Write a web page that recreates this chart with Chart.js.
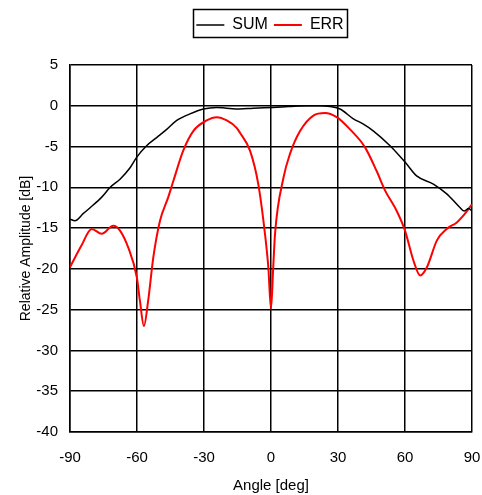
<!DOCTYPE html>
<html>
<head>
<meta charset="utf-8">
<script src="https://cdn.jsdelivr.net/npm/chart.js@4"></script>
<style>
  html, body { margin: 0; padding: 0; background: #fff; }
  #wrap { width: 482px; height: 495px; }
</style>
</head>
<body>
<div id="wrap"><canvas id="pattern-chart" width="482" height="495"></canvas></div>
<script>
// angle cuts
const sumAngle = [-90, -87.8, -84, -81, -75.8, -72, -67.6, -63.1, -60.1, -55.7, -51.2, -46.7, -42.2, -36.3, -30.3, -24.3, -20, -14, -8, 0.7, 8, 16, 22, 26.4, 30.9, 36.9, 41, 45.9, 53.3, 60, 65.2, 72.7, 78.7, 84.7, 86.5, 88.5, 90];
const sumDb    = [-13.9, -14.1, -13.2, -12.5, -11.2, -10, -9.0, -7.6, -6.3, -4.9, -3.9, -2.9, -1.8, -1.0, -0.4, -0.2, -0.3, -0.4, -0.3, -0.2, -0.1, 0, 0, -0.1, -0.4, -1.6, -2.2, -3.1, -4.9, -6.9, -8.6, -9.6, -10.8, -12.5, -12.9, -12.6, -12.9];

const errAngle = [-90, -85, -80.3, -75.8, -70.6, -67.6, -63.9, -60.1, -58.7, -56.9, -55, -52.7, -49.7, -46, -43.7, -39.3, -34.8, -28.8, -24.3, -19.8, -15.4, -13.9, -9.4, -5.7, -2.7, -1.2, 0, 1, 1.8, 5.6, 8.5, 13, 19, 24.2, 29.4, 35.4, 42.1, 47.3, 51.1, 56.3, 60, 63.8, 66.8, 69.8, 74.3, 78.7, 83.2, 86, 90];
const errDb    = [-19.8, -17.2, -15.1, -15.7, -14.7, -15.3, -17.4, -21.0, -23.9, -27.0, -23.9, -18.6, -14.1, -11.2, -9.2, -5.5, -3.1, -1.8, -1.4, -1.8, -2.7, -3.3, -5.5, -9.6, -15.7, -19.8, -24.9, -19.8, -15.7, -8.8, -5.9, -3.1, -1.2, -0.9, -1.4, -2.9, -5.1, -8.0, -10.4, -12.9, -15.3, -19.0, -20.8, -19.8, -16.5, -15.1, -14.3, -13.5, -12.1];

const xTicks = [-90, -60, -30, 0, 30, 60, 90];

function toPoints(xs, ys) {
    const pts = [];
    for (var i in xs) {
        pts.push({ x: xs[i], y: ys[i] });
    }
    return pts;
}

// legend: extra room below it, nudged right, framed like the original
const LEGEND_EXTRA = 22;
const LEGEND_SHIFT = 34;
const legendBox = {
    id: 'legendBox',
    beforeLayout(chart) {
        const lg = chart.legend;
        if (!lg || lg._patched) return;
        const fit = lg.fit;
        lg.fit = function() {
            fit.call(this);
            this.height += LEGEND_EXTRA;
        };
        lg._patched = true;
    },
    afterLayout(chart) {
        chart.legend.left += LEGEND_SHIFT;
        chart.legend.right += LEGEND_SHIFT;
    },
    afterDraw(chart) {
        const ctx = chart.ctx;
        ctx.save();
        ctx.strokeStyle = '#000';
        ctx.lineWidth = 1.5;
        ctx.strokeRect(193.5, 9.5, 154, 28);
        ctx.restore();
    }
};

const fontFam = '"Liberation Sans", Arial, sans-serif';

const config = {
    type: 'line',
    data: {
        datasets: [
            {
                label: 'SUM',
                data: toPoints(sumAngle, sumDb),
                borderColor: '#000',
                backgroundColor: '#000',
                borderWidth: 1.5,
                pointRadius: 0,
                cubicInterpolationMode: 'monotone'
            },
            {
                label: 'ERR',
                data: toPoints(errAngle, errDb),
                borderColor: '#ff0000',
                backgroundColor: '#ff0000',
                borderWidth: 2,
                pointRadius: 0,
                cubicInterpolationMode: 'monotone'
            }
        ]
    },
    options: {
        responsive: false,
        animation: false,
        layout: { padding: { left: 0, right: 10, top: 11, bottom: 0 } },
        plugins: {
            legend: {
                display: true,
                labels: {
                    usePointStyle: true,
                    pointStyle: 'line',
                    pointStyleWidth: 28,
                    color: '#000',
                    padding: 6,
                    font: { family: fontFam, size: 16 }
                }
            },
            tooltip: { enabled: false }
        },
        scales: {
            x: {
                type: 'linear',
                min: -90,
                max: 90,
                afterBuildTicks(scale) {
                    scale.ticks = xTicks.map(v => ({ value: v }));
                },
                afterFit(scale) {
                    scale.height = 63;
                    scale.paddingLeft = 0;
                    scale.paddingRight = 0;
                },
                grid: { color: '#000', lineWidth: 1.5, drawTicks: false },
                border: { color: '#000', width: 1.5 },
                ticks: {
                    color: '#000',
                    padding: 17,
                    maxRotation: 0,
                    font: { family: fontFam, size: 15 }
                },
                title: {
                    display: true,
                    text: 'Angle [deg]',
                    color: '#000',
                    padding: { top: 0, bottom: 0 },
                    font: { family: fontFam, size: 15 }
                }
            },
            y: {
                min: -40,
                max: 5,
                afterFit(scale) {
                    scale.width = 70;
                    scale.paddingTop = 0;
                    scale.paddingBottom = 0;
                },
                grid: { color: '#000', lineWidth: 1.5, drawTicks: false },
                border: { color: '#000', width: 1.5 },
                ticks: {
                    stepSize: 5,
                    color: '#000',
                    padding: 12,
                    font: { family: fontFam, size: 15 }
                },
                title: {
                    display: true,
                    text: 'Relative Amplitude [dB]',
                    color: '#000',
                    padding: { top: 18, bottom: 0 },
                    font: { family: fontFam, size: 14 }
                }
            }
        }
    },
    plugins: [legendBox]
};

const patternChart = new Chart(
    document.getElementById('pattern-chart'),
    config
);
</script>
</body>
</html>
